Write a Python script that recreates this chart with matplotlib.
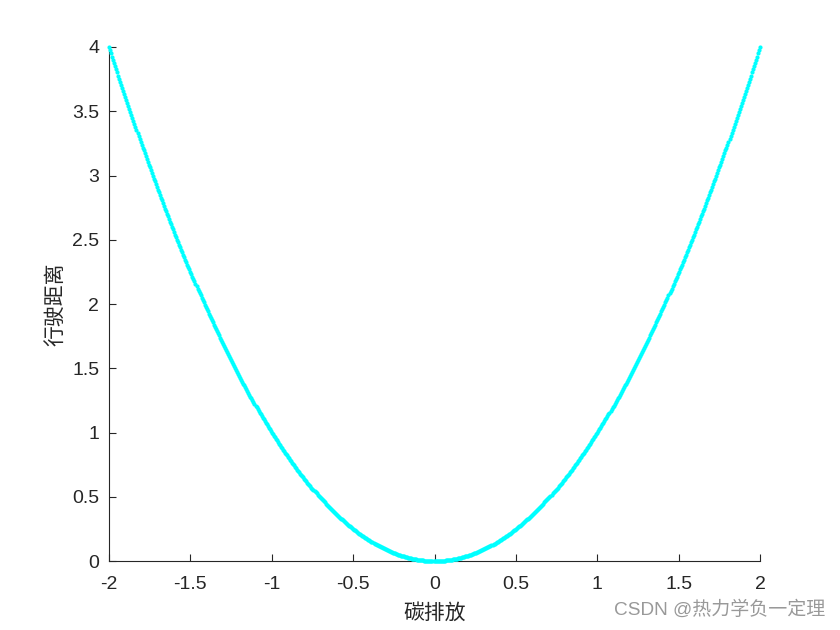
import numpy as np
import matplotlib
matplotlib.use("Agg")
import matplotlib.pyplot as plt

plt.rcParams['font.family'] = ['Liberation Sans', 'Noto Sans CJK SC', 'DejaVu Sans']

# Data: sampled points of the curve (x from -2 to 2), y = x^2
x_start, x_stop, n_points = -2.0, 2.0, 641
x = np.linspace(x_start, x_stop, n_points)
y = x ** 2

xticks = [-2, -1.5, -1, -0.5, 0, 0.5, 1, 1.5, 2]
xticklabels = ['-2', '-1.5', '-1', '-0.5', '0', '0.5', '1', '1.5', '2']
yticks = [0, 0.5, 1, 1.5, 2, 2.5, 3, 3.5, 4]
yticklabels = ['0', '0.5', '1', '1.5', '2', '2.5', '3', '3.5', '4']
xlabel = '碳排放'
ylabel = '行驶距离'
watermark = 'CSDN @热力学负一定理'

fig = plt.figure(figsize=(8.4, 6.3), dpi=100)
ax = fig.add_axes([0.1298, 0.1095, 0.7750, 0.8159])
ax.scatter(x, y, s=9, c='#00FFFF', marker='o', linewidths=0, clip_on=False, zorder=3)

ax.set_xlim(-2, 2)
ax.set_ylim(0, 4)
ax.set_xticks(xticks)
ax.set_xticklabels(xticklabels)
ax.set_yticks(yticks)
ax.set_yticklabels(yticklabels)
ax.spines['top'].set_visible(False)
ax.spines['right'].set_visible(False)
for s in ['left', 'bottom']:
    ax.spines[s].set_linewidth(0.8)
    ax.spines[s].set_color('#262626')
ax.tick_params(direction='in', length=5, width=0.8, colors='#262626', labelsize=14, pad=7)
ax.tick_params(axis='x', pad=11)

ax.set_xlabel(xlabel, fontsize=15, family=['Noto Sans CJK SC'], labelpad=6, color='#262626')
ax.set_ylabel(ylabel, fontsize=15, family=['Noto Sans CJK SC'], labelpad=4, color='#262626')

fig.text(0.982, 0.032, watermark, ha='right', va='center', fontsize=13.7,
         color='#999999', family=['Liberation Sans', 'Noto Sans CJK SC'])

fig.savefig('out.png', dpi=100, facecolor='white')
